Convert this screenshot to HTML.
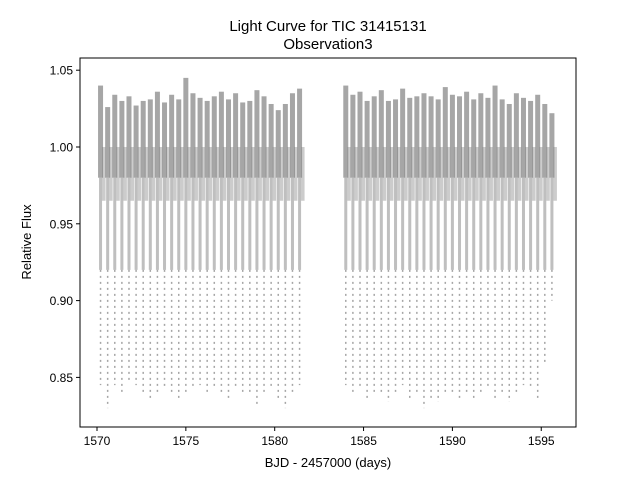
<!DOCTYPE html>
<html><head><meta charset="utf-8"><style>
body{margin:0;background:#fff}
svg text{font-family:"Liberation Sans","DejaVu Sans",sans-serif}
</style></head><body>
<svg id="chart" width="640" height="480" xmlns="http://www.w3.org/2000/svg">
<rect width="640" height="480" fill="#fff"/>
<text x="328" y="31" text-anchor="middle" font-size="15">Light Curve for TIC 31415131</text>
<text x="328" y="49" text-anchor="middle" font-size="15">Observation3</text>
<g id="marks"></g>
<rect x="80" y="58" width="496" height="369" fill="none" stroke="#000" stroke-width="1"/>
<g id="xt"></g>
<g id="yt"></g>
<text x="328" y="467" text-anchor="middle" font-size="13">BJD - 2457000 (days)</text>
<text transform="translate(31,242) rotate(-90)" text-anchor="middle" font-size="13">Relative Flux</text>
</svg>
<script>
const cycleTimes=[1570.2,1570.6,1571.0,1571.4,1571.8,1572.2,1572.6,1573.0,1573.4,1573.8,1574.2,1574.6,1575.0,1575.4,1575.8,1576.2,1576.6,1577.0,1577.4,1577.8,1578.2,1578.6,1579.0,1579.4,1579.8,1580.2,1580.6,1581.0,1581.4,
1584.0,1584.4,1584.8,1585.2,1585.6,1586.0,1586.4,1586.8,1587.2,1587.6,1588.0,1588.4,1588.8,1589.2,1589.6,1590.0,1590.4,1590.8,1591.2,1591.6,1592.0,1592.4,1592.8,1593.2,1593.6,1594.0,1594.4,1594.8,1595.2,1595.6];
const cycleTops=[1.040,1.026,1.034,1.030,1.033,1.027,1.030,1.031,1.036,1.029,1.034,1.031,1.045,1.035,1.032,1.030,1.033,1.036,1.031,1.035,1.029,1.030,1.037,1.033,1.028,1.024,1.028,1.035,1.038,
1.040,1.034,1.036,1.030,1.033,1.037,1.030,1.031,1.038,1.032,1.033,1.035,1.033,1.031,1.039,1.034,1.033,1.036,1.031,1.035,1.032,1.040,1.031,1.028,1.035,1.032,1.030,1.034,1.028,1.022];
const cycleBottoms=[0.845,0.830,0.845,0.838,0.848,0.845,0.840,0.836,0.840,0.842,0.838,0.836,0.838,0.842,0.845,0.840,0.842,0.838,0.836,0.844,0.840,0.838,0.832,0.840,0.842,0.836,0.830,0.840,0.845,
0.845,0.840,0.842,0.836,0.838,0.840,0.834,0.840,0.845,0.836,0.838,0.830,0.836,0.834,0.840,0.838,0.836,0.840,0.836,0.838,0.842,0.835,0.838,0.834,0.840,0.845,0.842,0.836,0.860,0.900];
const xTicks=[1570,1575,1580,1585,1590,1595];
const yTicks=[0.85,0.90,0.95,1.00,1.05];
const yTickLabels=["0.85","0.90","0.95","1.00","1.05"];
const NS="http://www.w3.org/2000/svg";
const xs=t=>97+(t-1570)*17.77;
const ys=v=>147-(v-1.0)*1536;
function mk(tag,attrs,parent){const e=document.createElementNS(NS,tag);for(const k in attrs)e.setAttribute(k,attrs[k]);parent.appendChild(e);return e;}
const g=document.getElementById('marks');
cycleTimes.forEach((t,i)=>{
  const x=xs(t);
  const r1=mk('rect',{x:x-2.5,y:ys(cycleTops[i]),width:5,height:ys(0.98)-ys(cycleTops[i]),fill:'#808080','fill-opacity':0.7},g);
  
  
  const r3=mk('rect',{x:x+1.5,y:ys(1.0),width:3.5,height:ys(0.965)-ys(1.0),fill:'#808080','fill-opacity':0.4},g);
  
  
  const r2=mk('rect',{x:x-1.5,y:ys(0.98),width:3,height:ys(0.92)-ys(0.98),fill:'#808080','fill-opacity':0.5},g);
  
  
  const l=mk('line',{x1:x,x2:x,y1:ys(0.92),y2:ys(cycleBottoms[i]),stroke:'#808080','stroke-width':1.5,'stroke-dasharray':'2 4','stroke-opacity':0.7},g);
  
  
});
const xt=document.getElementById('xt');
xTicks.forEach(v=>{const x=xs(v);
  const tl=mk('line',{x1:x,x2:x,y1:427,y2:431,stroke:'#000'},xt);
  
  
  const tx=mk('text',{x:x,y:445,'text-anchor':'middle','font-size':12},xt);tx.textContent=v;
  
  
});
const yt=document.getElementById('yt');
yTicks.forEach((v,i)=>{const y=ys(v);
  const tl=mk('line',{x1:76,x2:80,y1:y,y2:y,stroke:'#000'},yt);
  
  
  const tx=mk('text',{x:73,y:y+4.5,'text-anchor':'end','font-size':12},yt);tx.textContent=yTickLabels[i];
  
  
});
</script>
</body></html>
